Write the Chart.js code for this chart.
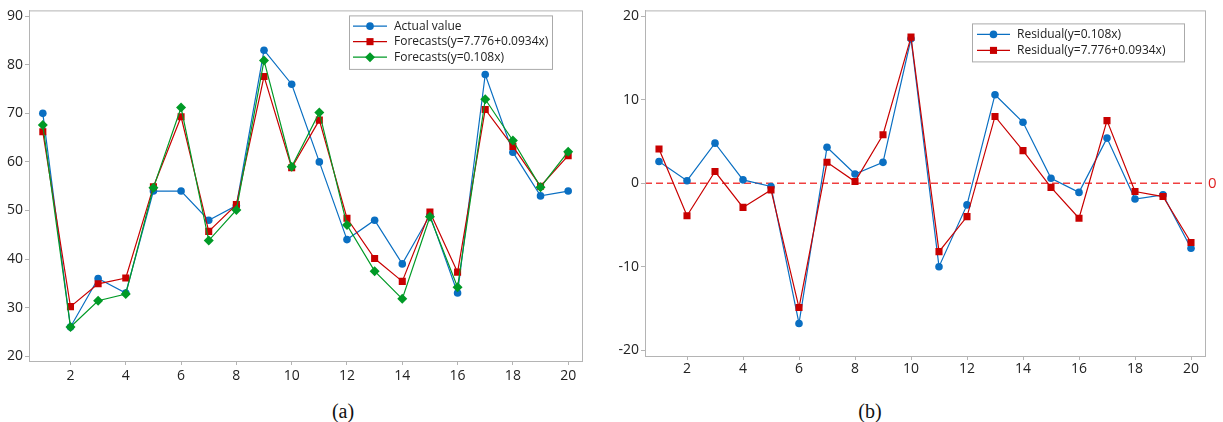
<!DOCTYPE html>
<html>
<head>
<meta charset="utf-8">
<script src="https://cdn.jsdelivr.net/npm/chart.js@4.4.0/dist/chart.umd.min.js"></script>
<style>
  body { margin: 0; background: #fff; width: 1223px; height: 422px; position: relative; overflow: hidden; }
  canvas { position: absolute; top: 0; }
  #chartA { left: 0; }
  #chartB { left: 600px; }
  .cap { position: absolute; top: 400px; width: 60px; text-align: center; line-height: 22px;
         font-family: "Liberation Serif", "Times New Roman", serif; font-size: 20px; color: #111; }
</style>
</head>
<body>
<canvas id="chartA" width="600" height="390"></canvas>
<canvas id="chartB" width="623" height="390"></canvas>
<div class="cap" style="left:313px">(a)</div>
<div class="cap" style="left:840px">(b)</div>
<script>
// observation number on the x axis
var obs = [1, 2, 3, 4, 5, 6, 7, 8, 9, 10, 11, 12, 13, 14, 15, 16, 17, 18, 19, 20];
var xTicks = [2, 4, 6, 8, 10, 12, 14, 16, 18, 20];

// (a) actual values and the two forecasts
var actual   = [70, 26, 36, 33, 54, 54, 48, 51, 83, 76, 60, 44, 48, 39, 49, 33, 78, 62, 53, 54];
var fcLinear = [66.2, 30.2, 34.9, 36.1, 54.9, 69.3, 45.7, 51.2, 77.6, 58.8, 68.6, 48.4, 40.1, 35.4, 49.7, 37.3, 70.8, 63.2, 55.0, 61.3];
var fcProp   = [67.6, 26.0, 31.4, 32.8, 54.7, 71.2, 43.8, 50.1, 80.9, 59.0, 70.2, 47.0, 37.5, 31.8, 48.7, 34.2, 72.9, 64.4, 54.8, 62.1];
var yTicksA  = [20, 30, 40, 50, 60, 70, 80, 90];

// (b) residuals of the two models
var resProp   = [2.6, 0.3, 4.8, 0.4, -0.4, -16.8, 4.3, 1.1, 2.5, 17.3, -10.0, -2.6, 10.6, 7.3, 0.6, -1.1, 5.4, -1.9, -1.4, -7.8];
var resLinear = [4.1, -3.9, 1.4, -2.9, -0.8, -14.9, 2.5, 0.2, 5.8, 17.5, -8.2, -4.0, 8.0, 3.9, -0.5, -4.2, 7.5, -1.0, -1.6, -7.1];
var yTicksB   = [-20, -10, 0, 10, 20];
var refValue  = 0;

var BLUE = '#0a6fc2', RED = '#c80000', GREEN = '#009a26', AXIS = '#b4b4b4';

Chart.defaults.font.family = '"Open Sans", "Noto Sans", sans-serif';
Chart.defaults.color = '#222';

function toPoints(values) {
  var pts = [];
  for (var i = 0; i < obs.length; i++) {
    pts.push({ x: obs[i], y: values[i] });
  }
  return pts;
}

function series(label, values, color, style, radius, order) {
  return {
    label: label,
    data: toPoints(values),
    borderColor: color,
    backgroundColor: color,
    borderWidth: 1.2,
    pointStyle: style,
    pointRadius: radius,
    pointBorderWidth: 0,
    order: order
  };
}

function drawMarker(ctx, style, x, y, r) {
  ctx.beginPath();
  if (style === 'circle') {
    ctx.arc(x, y, r, 0, Math.PI * 2);
  } else if (style === 'rect') {
    var s = r * Math.SQRT1_2;
    ctx.rect(x - s, y - s, 2 * s, 2 * s);
  } else {
    ctx.moveTo(x, y - r); ctx.lineTo(x + r, y); ctx.lineTo(x, y + r); ctx.lineTo(x - r, y);
    ctx.closePath();
  }
  ctx.fill();
}

// frame round the plot, optional dashed zero line, legend inside the plot
var framePlugin = {
  id: 'frame',
  beforeDatasetsDraw: function(chart, args, opts) {
    if (opts.ref === undefined) return;
    var a = chart.chartArea, ctx = chart.ctx;
    var y = chart.scales.y.getPixelForValue(opts.ref);
    ctx.save();
    ctx.strokeStyle = '#f04040';
    ctx.lineWidth = 1.6;
    ctx.setLineDash([7, 4]);
    ctx.beginPath(); ctx.moveTo(a.left, y); ctx.lineTo(a.right, y); ctx.stroke();
    ctx.setLineDash([]);
    ctx.fillStyle = '#e02020';
    ctx.font = '15px "Open Sans", sans-serif';
    ctx.textBaseline = 'middle';
    ctx.fillText(String(opts.ref), a.right + 3, y + 1);
    ctx.restore();
  },
  afterDraw: function(chart, args, opts) {
    var a = chart.chartArea, ctx = chart.ctx;
    ctx.save();
    ctx.strokeStyle = AXIS;
    ctx.lineWidth = 1;
    ctx.strokeRect(a.left + 0.5, a.top + 0.5, a.right - a.left, a.bottom - a.top);

    // legend box
    var lg = opts.legend;
    var bx = a.right - lg.right - lg.width, by = a.top + lg.top;
    var sets = chart.data.datasets;
    var h = lg.padTop + lg.rowH * sets.length + lg.padBottom;
    ctx.fillStyle = '#fff';
    ctx.fillRect(bx, by, lg.width, h);
    ctx.strokeStyle = '#aaa';
    ctx.strokeRect(bx + 0.5, by + 0.5, lg.width, h);
    ctx.font = lg.font;
    ctx.textBaseline = 'middle';
    for (var i = 0; i < sets.length; i++) {
      var ds = sets[i];
      var cy = by + lg.padTop + lg.rowH * (i + 0.5);
      var x0 = bx + lg.padLeft, x1 = x0 + lg.lineLen;
      ctx.strokeStyle = ds.borderColor;
      ctx.lineWidth = 1.2;
      ctx.beginPath(); ctx.moveTo(x0, cy); ctx.lineTo(x1, cy); ctx.stroke();
      ctx.fillStyle = ds.backgroundColor;
      drawMarker(ctx, ds.pointStyle, (x0 + x1) / 2, cy, ds.pointRadius);
      ctx.fillStyle = '#222';
      ctx.fillText(ds.label, x1 + lg.gap, cy);
    }
    ctx.restore();
  }
};

function axes(yMin, yMax, yTicks, yWidth, xHeight, xPad) {
  return {
    x: {
      type: 'linear', min: 0.5, max: 20.5,
      afterBuildTicks: function(s) { s.ticks = xTicks.map(function(v) { return { value: v }; }); },
      afterFit: function(s) { s.height = xHeight; },
      grid: { drawOnChartArea: false, drawTicks: true, tickLength: 4, color: AXIS },
      border: { color: AXIS },
      ticks: { font: { size: 14 }, padding: xPad, maxRotation: 0 }
    },
    y: {
      type: 'linear', min: yMin, max: yMax,
      afterBuildTicks: function(s) { s.ticks = yTicks.map(function(v) { return { value: v }; }); },
      afterFit: function(s) { s.width = yWidth; },
      grid: { drawOnChartArea: false, drawTicks: true, tickLength: 4, color: AXIS },
      border: { color: AXIS },
      ticks: { font: { size: 14 }, padding: 2 }
    }
  };
}

new Chart(document.getElementById('chartA'), {
  type: 'line',
  data: {
    datasets: [
      series('Actual value', actual, BLUE, 'circle', 3.8, 3),
      series('Forecasts(y=7.776+0.0934x)', fcLinear, RED, 'rect', 5, 2),
      series('Forecasts(y=0.108x)', fcProp, GREEN, 'rectRot', 5, 1)
    ]
  },
  options: {
    responsive: false, animation: false, devicePixelRatio: 1,
    layout: { padding: { top: 7, right: 18, left: 0, bottom: 0 } },
    scales: axes(19, 91.2, yTicksA, 29, 29, 3),
    plugins: {
      legend: { display: false }, tooltip: { enabled: false },
      frame: { legend: { right: 30, top: 5, width: 203, padTop: 3, padBottom: 4, rowH: 15.5,
                         padLeft: 4, lineLen: 34, gap: 7, font: '12px "Open Sans", sans-serif' } }
    }
  },
  plugins: [framePlugin]
});

new Chart(document.getElementById('chartB'), {
  type: 'line',
  data: {
    datasets: [
      series('Residual(y=0.108x)', resProp, BLUE, 'circle', 3.8, 2),
      series('Residual(y=7.776+0.0934x)', resLinear, RED, 'rect', 5, 1)
    ]
  },
  options: {
    responsive: false, animation: false, devicePixelRatio: 1,
    layout: { padding: { top: 9, right: 18, left: 0, bottom: 0 } },
    scales: axes(-20.7, 20.7, yTicksB, 45, 34, 1),
    plugins: {
      legend: { display: false }, tooltip: { enabled: false },
      frame: { ref: refValue,
               legend: { right: 21, top: 13, width: 212, padTop: 3, padBottom: 3, rowH: 16,
                         padLeft: 5, lineLen: 33, gap: 7, font: '12px "Open Sans", sans-serif' } }
    }
  },
  plugins: [framePlugin]
});
</script>
</body>
</html>
